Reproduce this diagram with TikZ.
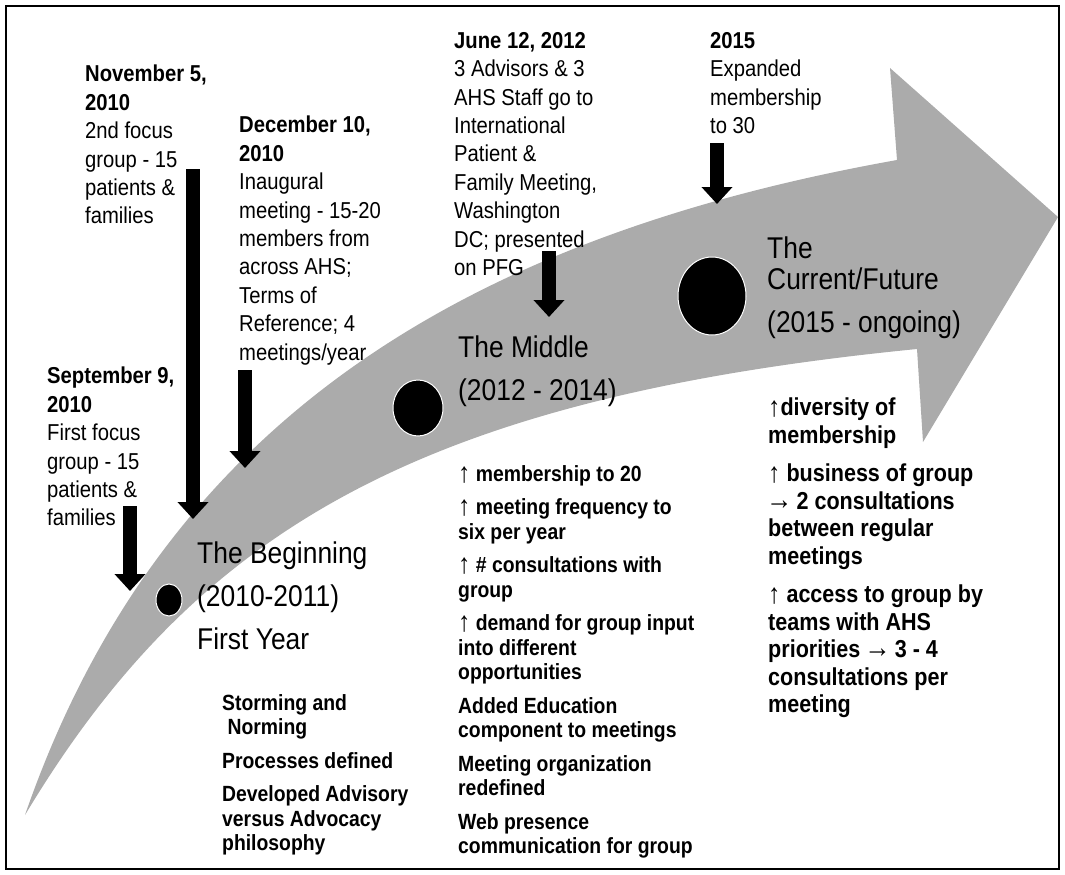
\documentclass[tikz,border=0pt]{standalone}
\usepackage{fontspec}
\setmainfont{Liberation Sans}[FakeStretch=0.88]
\usetikzlibrary{arrows.meta,shapes.geometric}
\definecolor{bandgrey}{RGB}{171,171,171}
\newcommand\uparr{\smash{\raisebox{-1pt}{\fontsize{28}{10}\selectfont ↑}}}
\newcommand\rightarr{\smash{\fontsize{30}{10}\selectfont\kern-2pt →\kern-2pt}}
\tikzset{
  datebox/.style={anchor=north west,inner sep=0pt,align=left,font=\fontsize{23}{28.4}\selectfont},
  stagebox/.style={anchor=north west,inner sep=0pt,align=left,font=\fontsize{30}{43}\selectfont},
  listbox/.style={anchor=north west,inner sep=0pt,align=left,font=\fontsize{22}{24.5}\selectfont\bfseries},
  biglist/.style={listbox,font=\fontsize{24.5}{27.5}\selectfont\bfseries},
  stagedot/.style={ellipse,fill=black,draw=white,line width=1pt,inner sep=0pt},
  downarrow/.style={line width=14pt,-{Triangle[width=30pt,length=17pt]}},
}
\begin{document}
\begin{tikzpicture}[x=1pt,y=-1pt]
\useasboundingbox (0,0) rectangle (1065,875);
\draw[line width=2pt] (6,6) rectangle (1059,869);

% La grande fleche courbe
\fill[bandgrey] (25,815) .. controls (160,425) and (460,238) .. (897,160)
  -- (890,68) -- (1058,217) -- (923,442) -- (917,349)
  .. controls (420,398) and (196,530) .. (25,815) -- cycle;

% Etapes
\node[stagedot,minimum width=26pt,minimum height=32pt] (begin dot) at (169,600) {};
\node[stagedot,minimum width=50pt,minimum height=56pt] (middle dot) at (418,408) {};
\node[stagedot,minimum width=68pt,minimum height=78pt] (current dot) at (712,296) {};

\node[stagebox] (begin title) at (197,542) {The Beginning\\(2010-2011)\\First Year};
\node[stagebox] (middle title) at (458,336) {The Middle\\(2012 - 2014)};
\node[stagebox] (current title) at (767,237) {The\\[-12pt]Current/Future\\(2015 - ongoing)};

% Dates
\node[datebox] (sept) at (47,367) {\textbf{September 9,}\\\textbf{2010}\\First focus\\group - 15\\patients \&\\families};
\node[datebox] (nov) at (85,65) {\textbf{November 5,}\\\textbf{2010}\\2nd focus\\group - 15\\patients \&\\families};
\node[datebox] (dec) at (239,116) {\textbf{December 10,}\\\textbf{2010}\\Inaugural\\meeting - 15-20\\members from\\across AHS;\\Terms of\\Reference; 4\\meetings/year};
\node[datebox] (june) at (454,32) {\textbf{June 12, 2012}\\3 Advisors \& 3\\AHS Staff go to\\International\\Patient \&\\Family Meeting,\\Washington\\DC; presented\\on PFG};
\node[datebox] (y2015) at (710,32) {\textbf{2015}\\Expanded\\membership\\to 30};

% Fleches vers la courbe
\coordinate (sept top) at (130,506);
\coordinate (sept tip) at (130,591);
\coordinate (nov top) at (193,169);
\coordinate (nov tip) at (193,519);
\coordinate (dec top) at (245,370);
\coordinate (dec tip) at (245,468);
\coordinate (june top) at (549,251);
\coordinate (june tip) at (549,317);
\coordinate (y2015 top) at (717,143);
\coordinate (y2015 tip) at (717,204);
\draw[downarrow] (sept top) -- (sept tip);
\draw[downarrow] (nov top) -- (nov tip);
\draw[downarrow] (dec top) -- (dec tip);
\draw[downarrow] (june top) -- (june tip);
\draw[downarrow] (y2015 top) -- (y2015 tip);

% Listes
\node[listbox] (begin list) at (222,694) {Storming and\\\ Norming\\[9pt]Processes defined\\[9pt]Developed Advisory\\versus Advocacy\\philosophy};
\node[listbox] (middle list) at (458,465) {\uparr\ membership to 20\\[9pt]\uparr\ meeting frequency to\\six per year\\[9pt]\uparr\ \# consultations with\\group\\[9pt]\uparr\ demand for group input\\into different\\opportunities\\[9pt]Added Education\\component to meetings\\[9pt]Meeting organization\\redefined\\[9pt]Web presence\\communication for group};
\node[biglist] (current list) at (768,398) {\uparr diversity of\\membership\\[11pt]\uparr\ business of group\\\rightarr\ 2 consultations\\between regular\\meetings\\[11pt]\uparr\ access to group by\\teams with AHS\\priorities \rightarr\ 3 - 4\\consultations per\\meeting};

\end{tikzpicture}
\end{document}
